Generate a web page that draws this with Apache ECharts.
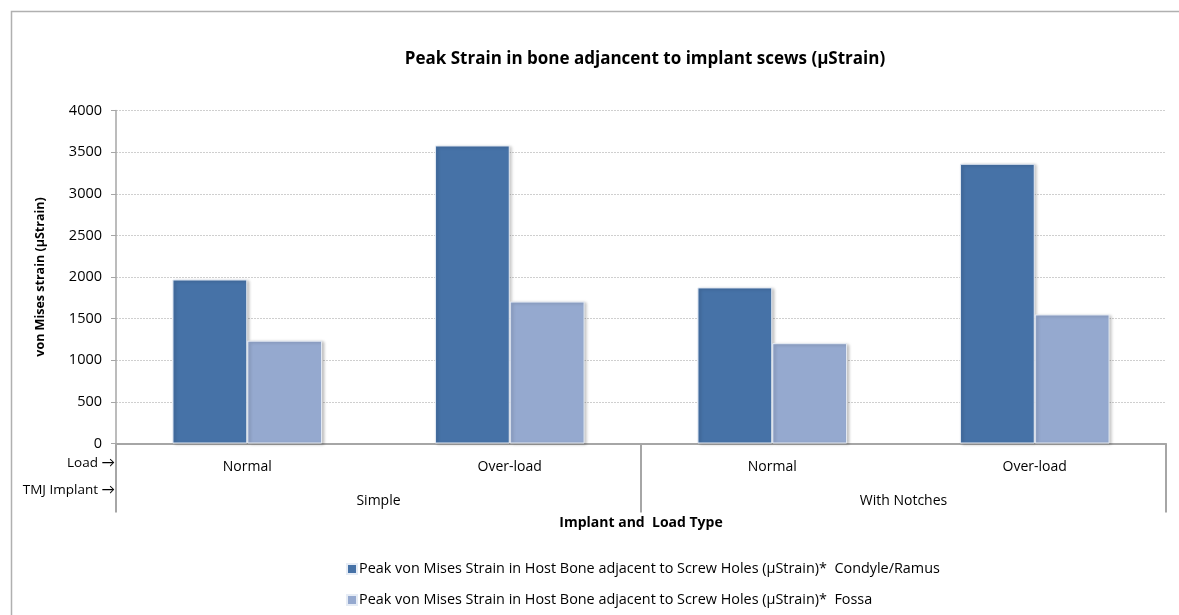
<!DOCTYPE html>
<html>
<head>
<meta charset="utf-8">
<script src="https://cdn.jsdelivr.net/npm/echarts@6/dist/echarts.min.js"></script>
<style>
html,body{margin:0;padding:0;background:#fff;}
#chart{width:1179px;height:615px;}
</style>
</head>
<body>
<div id="chart"></div>
<script>
const loadCategories = ['Normal', 'Over-load', 'Normal', 'Over-load'];
const implantCategories = ['Simple', 'With Notches'];
const seriesNames = [
  'Peak von Mises Strain in Host Bone adjacent to Screw Holes (µStrain)*  Condyle/Ramus',
  'Peak von Mises Strain in Host Bone adjacent to Screw Holes (µStrain)*  Fossa'
];
const condyleRamus = [1970, 3580, 1875, 3360];
const fossa = [1235, 1705, 1205, 1550];
const yTicks = { min: 0, max: 4000, interval: 500 };

const FONT = '"Open Sans", Lato, sans-serif';
const chart = echarts.init(document.getElementById('chart'));
const barStyle = (color) => ({
  color: color,
  borderColor: '#e6ecf5',
  borderWidth: 1,
  shadowColor: 'rgba(0,0,0,0.25)',
  shadowBlur: 3,
  shadowOffsetX: 2,
  shadowOffsetY: 1
});

chart.setOption({
  backgroundColor: '#ffffff',
  animation: false,
  title: {
    text: 'Peak Strain in bone adjancent to implant scews (µStrain)',
    left: 640, top: 46, textAlign: 'center',
    textStyle: { fontFamily: FONT, fontSize: 17, fontWeight: 'bold', color: '#000' }
  },
  graphic: [
    { type: 'rect', left: 9, top: 9, shape: { width: 1200, height: 700 },
      style: { fill: 'none', stroke: '#b0b0b0', lineWidth: 1.5 }, silent: true },
    { type: 'text', right: 1179 - 115, top: 456,
      style: { text: 'Load →', fontFamily: FONT, fontSize: 13.5, fill: '#000', textAlign: 'right' } },
    { type: 'text', right: 1179 - 115, top: 483,
      style: { text: 'TMJ Implant →', fontFamily: FONT, fontSize: 13.5, fill: '#000', textAlign: 'right' } }
  ],
  legend: {
    orient: 'vertical',
    left: 341, top: 557,
    itemWidth: 10, itemHeight: 10, itemGap: 17,
    icon: 'rect',
    textStyle: { fontFamily: FONT, fontSize: 14.4, color: '#000', padding: [0, 0, 0, -3] },
    data: seriesNames
  },
  grid: { left: 116, right: 13, top: 110.5, bottom: 171.5 },
  xAxis: [
    {
      type: 'category',
      data: loadCategories,
      position: 'bottom',
      axisLine: { show: true, lineStyle: { color: '#a6a6a6', width: 2 } },
      axisTick: { show: false },
      axisLabel: { margin: 17, fontFamily: FONT, fontSize: 14, color: '#000' },
      name: 'Implant and  Load Type',
      nameLocation: 'middle',
      nameGap: 73,
      nameTextStyle: { fontFamily: FONT, fontSize: 14, fontWeight: 'bold', color: '#000' }
    },
    {
      type: 'category',
      data: implantCategories,
      position: 'bottom',
      axisLine: { show: false },
      axisTick: { show: true, length: 69, lineStyle: { color: '#a6a6a6', width: 2 } },
      axisLabel: { margin: 51, fontFamily: FONT, fontSize: 14, color: '#000' }
    }
  ],
  yAxis: {
    type: 'value',
    min: yTicks.min, max: yTicks.max, interval: yTicks.interval,
    axisLine: { show: true, lineStyle: { color: '#a6a6a6', width: 1.5 } },
    axisTick: { show: true, length: 5, lineStyle: { color: '#a6a6a6' } },
    axisLabel: { margin: 14, fontFamily: FONT, fontSize: 14.5, color: '#000',
      formatter: (v) => String(v) },
    splitLine: { show: true, lineStyle: { color: '#cfcfcf', type: [2, 1], width: 1 } },
    name: 'von Mises strain (µStrain)',
    nameLocation: 'middle',
    nameGap: 69,
    nameTextStyle: { fontFamily: FONT, fontSize: 12.5, fontWeight: 'bold', color: '#000' }
  },
  series: [
    { name: seriesNames[0], type: 'bar', data: condyleRamus, xAxisIndex: 0,
      barGap: '0%', barCategoryGap: '43%', itemStyle: barStyle('#4672a7') },
    { name: seriesNames[1], type: 'bar', data: fossa, xAxisIndex: 0,
      barGap: '0%', barCategoryGap: '43%', itemStyle: barStyle('#95a9cf') }
  ]
});
</script>
</body>
</html>
